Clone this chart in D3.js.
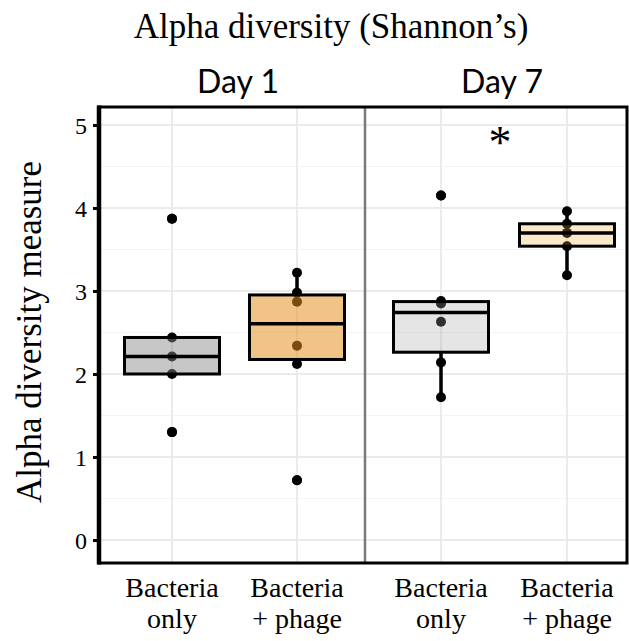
<!DOCTYPE html>
<html lang="en">
<head>
    <meta charset="UTF-8">
    <title>Alpha diversity (Shannon's)</title>
    <style>
        body { margin: 0; background: #ffffff; }
        #chart { width: 629px; height: 641px; }
    </style>
</head>
<body>
<div id="chart"></div>

<script src="https://d3js.org/d3.v7.min.js"></script>
<script>
    // values
    const days = ["Day 1", "Day 7"];
    const groups = ["Bacteria only", "Bacteria + phage"];
    const groupLines = [["Bacteria", "only"], ["Bacteria", "+ phage"]];
    const day1BacteriaOnly = [3.87, 2.44, 2.21, 2.00, 1.30];
    const day1BacteriaPhage = [3.22, 2.98, 2.87, 2.34, 2.12, 0.72];
    const day7BacteriaOnly = [4.15, 2.88, 2.85, 2.63, 2.14, 1.72];
    const day7BacteriaPhage = [3.96, 3.81, 3.70, 3.54, 3.19];
    const yTicks = [0, 1, 2, 3, 4, 5];
    const significance = [{ day: "Day 7", label: "*", value: 4.85 }];

    const series = [
        { day: "Day 1", group: groups[0], values: day1BacteriaOnly, fill: "#898989", alpha: 0.47 },
        { day: "Day 1", group: groups[1], values: day1BacteriaPhage, fill: "#e28d1c", alpha: 0.53 },
        { day: "Day 7", group: groups[0], values: day7BacteriaOnly, fill: "#a5a5a5", alpha: 0.29 },
        { day: "Day 7", group: groups[1], values: day7BacteriaPhage, fill: "#f0a028", alpha: 0.25 }
    ];

    const SERIF = '"Liberation Serif", "Times New Roman", serif';
    const SANS = 'Lato, "Open Sans", sans-serif';

    const svg = d3.select("#chart").append("svg")
        .attr("width", 629)
        .attr("height", 641);

    const panelTop = 107, panelBottom = 563;
    const panels = { "Day 1": [99, 365], "Day 7": [365, 627] };

    const y = d3.scaleLinear().domain([0, 5]).range([540, 125]);

    // one point scale per facet
    const xScales = {};
    days.forEach(day => {
        const [x0, x1] = panels[day];
        xScales[day] = d3.scalePoint().domain(groups).range(day === "Day 1" ? [x0 + 73, x1 - 68] : [x0 + 76, x1 - 60]);
    });

    const boxWidth = 95;

    // gridlines
    const grid = svg.append("g");
    days.forEach(day => {
        const [x0, x1] = panels[day];
        d3.range(-0.5, 5.5, 1).forEach(v => {
            if (y(v) > panelTop && y(v) < panelBottom) {
                grid.append("line").attr("x1", x0).attr("x2", x1)
                    .attr("y1", y(v)).attr("y2", y(v))
                    .attr("stroke", "#f4f4f4").attr("stroke-width", 1.2);
            }
        });
        yTicks.forEach(v => {
            grid.append("line").attr("x1", x0).attr("x2", x1)
                .attr("y1", y(v)).attr("y2", y(v))
                .attr("stroke", "#ebebeb").attr("stroke-width", 2);
        });
        groups.forEach(g => {
            grid.append("line").attr("x1", xScales[day](g)).attr("x2", xScales[day](g))
                .attr("y1", panelTop).attr("y2", panelBottom)
                .attr("stroke", "#ebebeb").attr("stroke-width", 2);
        });
    });

    // raw points (under the translucent boxes)
    const pts = svg.append("g");
    series.forEach(s => {
        pts.selectAll(null).data(s.values).enter().append("circle")
            .attr("cx", xScales[s.day](s.group))
            .attr("cy", d => y(d))
            .attr("r", 5)
            .attr("fill", "#000");
    });

    // boxplots
    const boxes = svg.append("g");
    series.forEach(s => {
        const v = s.values.slice().sort(d3.ascending);
        const q1 = d3.quantile(v, 0.25), med = d3.quantile(v, 0.5), q3 = d3.quantile(v, 0.75);
        const iqr = q3 - q1;
        const inside = v.filter(d => d >= q1 - 1.5 * iqr && d <= q3 + 1.5 * iqr);
        const lo = d3.min(inside), hi = d3.max(inside);
        const outliers = v.filter(d => d < lo || d > hi);
        const cx = xScales[s.day](s.group);

        boxes.append("line").attr("x1", cx).attr("x2", cx)
            .attr("y1", y(hi)).attr("y2", y(q3))
            .attr("stroke", "#000").attr("stroke-width", 3.5);
        boxes.append("line").attr("x1", cx).attr("x2", cx)
            .attr("y1", y(q1)).attr("y2", y(lo))
            .attr("stroke", "#000").attr("stroke-width", 3.5);
        boxes.append("rect")
            .attr("x", cx - boxWidth / 2).attr("width", boxWidth)
            .attr("y", y(q3)).attr("height", y(q1) - y(q3))
            .attr("fill", s.fill).attr("fill-opacity", s.alpha)
            .attr("stroke", "#000").attr("stroke-width", 3);
        boxes.append("line").attr("x1", cx - boxWidth / 2).attr("x2", cx + boxWidth / 2)
            .attr("y1", y(med)).attr("y2", y(med))
            .attr("stroke", "#000").attr("stroke-width", 3.5);
        boxes.selectAll(null).data(outliers).enter().append("circle")
            .attr("cx", cx).attr("cy", d => y(d)).attr("r", 5).attr("fill", "#000");
    });

    // significance marker
    significance.forEach(m => {
        const [x0, x1] = panels[m.day];
        svg.append("text")
            .attr("x", (x0 + x1) / 2 + 4).attr("y", y(m.value) + 21)
            .attr("text-anchor", "middle")
            .style("font-family", SERIF)
            .style("font-size", "46px")
            .text(m.label);
    });

    // panel frame and facet divider
    svg.append("line").attr("x1", 365).attr("x2", 365)
        .attr("y1", panelTop).attr("y2", panelBottom)
        .attr("stroke", "#7a7a7a").attr("stroke-width", 2.5);
    svg.append("rect")
        .attr("x", 99).attr("y", panelTop)
        .attr("width", 627 - 99).attr("height", panelBottom - panelTop)
        .attr("fill", "none").attr("stroke", "#000").attr("stroke-width", 3);
    svg.append("line").attr("x1", 99).attr("x2", 99)
        .attr("y1", panelTop - 1.5).attr("y2", panelBottom + 1.5)
        .attr("stroke", "#000").attr("stroke-width", 4.5);

    // y axis
    const yAxis = svg.append("g")
        .attr("transform", "translate(99,0)")
        .call(d3.axisLeft(y).tickValues(yTicks).tickSize(6).tickPadding(6).tickFormat(d3.format("d")));
    yAxis.select(".domain").remove();
    yAxis.selectAll(".tick line").attr("stroke", "#000").attr("stroke-width", 3);
    yAxis.selectAll(".tick text")
        .attr("fill", "#000")
        .style("font-family", SERIF)
        .style("font-size", "24px")
        .attr("dy", "0.34em");

    // x labels and facet titles
    days.forEach(day => {
        groups.forEach((g, i) => {
            const t = svg.append("text")
                .attr("x", xScales[day](g)).attr("y", 597)
                .attr("text-anchor", "middle")
                .style("font-family", SERIF)
                .style("font-size", "28px");
            groupLines[i].forEach((line, j) => {
                t.append("tspan").attr("x", xScales[day](g)).attr("dy", j === 0 ? 0 : 31).text(line);
            });
        });
        const [x0, x1] = panels[day];
        svg.append("text")
            .attr("x", (x0 + x1) / 2 + 6).attr("y", 93)
            .attr("text-anchor", "middle")
            .style("font-family", SANS)
            .style("font-size", "32px")
            .text(day);
    });

    // titles
    svg.append("text")
        .attr("x", 331).attr("y", 38)
        .attr("text-anchor", "middle")
        .style("font-family", SERIF)
        .style("font-size", "35px")
        .text("Alpha diversity (Shannon\u2019s)");

    svg.append("text")
        .attr("transform", "translate(41,332) rotate(-90)")
        .attr("text-anchor", "middle")
        .style("font-family", SERIF)
        .style("font-size", "35px")
        .text("Alpha diversity measure");
</script>
</body>
</html>
